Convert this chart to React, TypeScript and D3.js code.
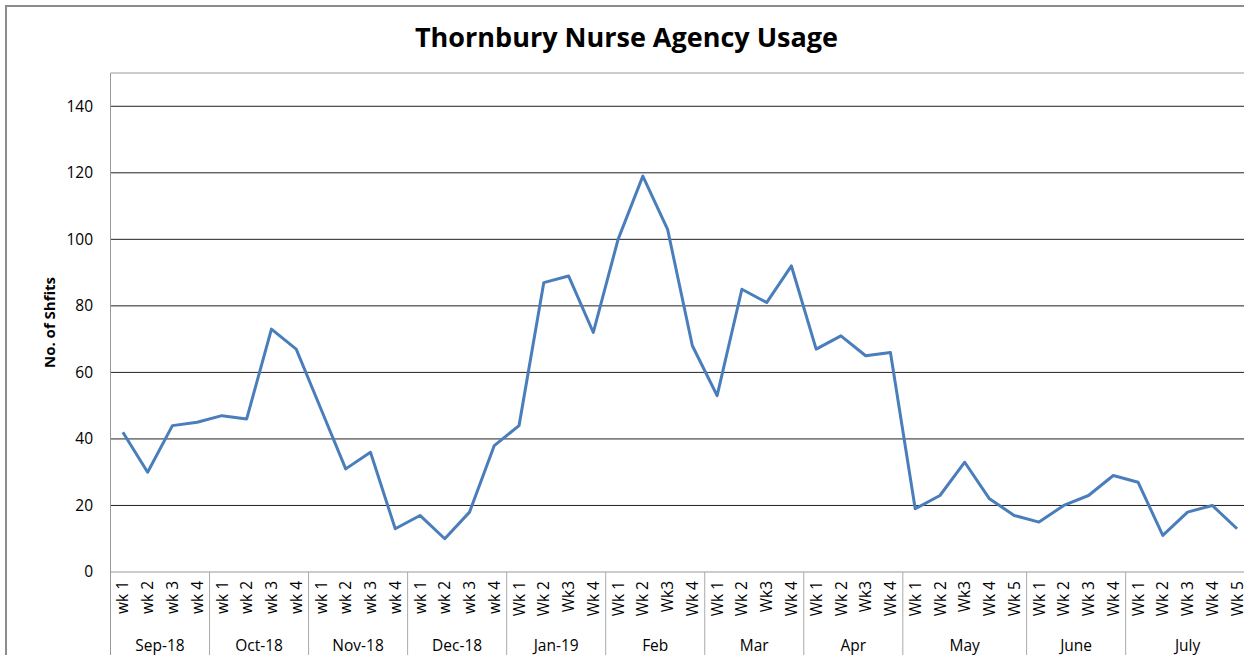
import React from "react";
import * as d3 from "d3";

const months = ["Sep-18", "Oct-18", "Nov-18", "Dec-18", "Jan-19", "Feb", "Mar", "Apr", "May", "June", "July"];
const weekLabels: string[][] = [
  ["wk 1", "wk 2", "wk 3", "wk 4"],
  ["wk 1", "wk 2", "wk 3", "wk 4"],
  ["wk 1", "wk 2", "wk 3", "wk 4"],
  ["wk 1", "wk 2", "wk 3", "wk 4"],
  ["Wk 1", "Wk 2", "Wk3", "Wk 4"],
  ["Wk 1", "Wk 2", "Wk3", "Wk 4"],
  ["Wk 1", "Wk 2", "Wk3", "Wk 4"],
  ["Wk 1", "Wk 2", "Wk3", "Wk 4"],
  ["Wk 1", "Wk 2", "Wk3", "Wk 4", "Wk 5"],
  ["Wk 1", "Wk 2", "Wk 3", "Wk 4"],
  ["Wk 1", "Wk 2", "Wk 3", "Wk 4", "Wk 5"],
];
const shifts = [
  42, 30, 44, 45,
  47, 46, 73, 67,
  49, 31, 36, 13,
  17, 10, 18, 38,
  44, 87, 89, 72,
  100, 119, 103, 68,
  53, 85, 81, 92,
  67, 71, 65, 66,
  19, 23, 33, 22, 17,
  15, 20, 23, 29,
  27, 11, 18, 20, 13,
];
const yTicks = [0, 20, 40, 60, 80, 100, 120, 140];

const W = 1244;
const H = 655;
const plotLeft = 110.5;
const catW = 24.76;
const plotTop = 73;
const plotBottom = 572;
const font = "'Open Sans', 'Noto Sans', sans-serif";

export default function App() {
  const cats = weekLabels.flatMap((wks, mi) => wks.map((w, wi) => ({ key: `${mi}-${wi}`, label: w })));
  const x = d3
    .scaleBand<string>()
    .domain(cats.map((c) => c.key))
    .range([plotLeft, plotLeft + catW * cats.length])
    .paddingInner(0)
    .paddingOuter(0);
  const y = d3.scaleLinear().domain([0, 150]).range([plotBottom, plotTop]);
  const cx = (k: string) => (x(k) as number) + x.bandwidth() / 2;

  const line = d3
    .line<number>()
    .x((_, i) => cx(cats[i].key))
    .y((d) => y(d));

  const bounds: { start: number; end: number; name: string }[] = [];
  let idx = 0;
  weekLabels.forEach((wks, mi) => {
    const s = x(cats[idx].key) as number;
    idx += wks.length;
    const e = s + x.bandwidth() * wks.length;
    bounds.push({ start: s, end: e, name: months[mi] });
  });
  const plotRight = plotLeft + catW * cats.length;

  return (
    <svg
      width={W}
      height={H}
      style={{ position: "absolute", left: 0, top: 0, background: "#fff" }}
      fontFamily={font}
    >
      <rect x={0} y={0} width={W} height={H} fill="#fff" />
      <rect x={6} y={6} width={W + 50} height={H + 50} fill="none" stroke="#8c8c8c" strokeWidth={2} />
      <text x={626.5} y={47} textAnchor="middle" fontSize={27} fontWeight="bold" fill="#000">
        Thornbury Nurse Agency Usage
      </text>
      <line x1={plotLeft} x2={plotRight} y1={plotTop} y2={plotTop} stroke="#999" strokeWidth={1} />
      {yTicks
        .filter((t) => t > 0)
        .map((t) => (
          <line key={t} x1={plotLeft} x2={plotRight} y1={y(t)} y2={y(t)} stroke="#222" strokeWidth={1} />
        ))}
      {yTicks.map((t) => (
        <text key={"l" + t} x={93} y={y(t)} dy="0.35em" textAnchor="end" fontSize={15.5} fill="#000">
          {t}
        </text>
      ))}
      <line x1={plotLeft} x2={plotLeft} y1={plotTop} y2={H} stroke="#999" strokeWidth={1} />
      <line x1={plotLeft} x2={plotRight} y1={plotBottom} y2={plotBottom} stroke="#999" strokeWidth={1} />
      {bounds.map((b, i) => (
        <line key={"d" + i} x1={b.end} x2={b.end} y1={plotBottom} y2={H} stroke="#aaa" strokeWidth={1} />
      ))}
      {cats.map((c) => (
        <text
          key={"w" + c.key}
          transform={`translate(${cx(c.key)},${581}) rotate(-90)`}
          dy="0.36em"
          textAnchor="end"
          fontSize={15.5}
          fill="#000"
        >
          {c.label}
        </text>
      ))}
      {bounds.map((b, i) => (
        <text key={"m" + i} x={(b.start + b.end) / 2} y={651} textAnchor="middle" fontSize={15.5} fill="#000">
          {b.name}
        </text>
      ))}
      <text
        transform={`translate(50,${(plotTop + plotBottom) / 2}) rotate(-90)`}
        dy="0.35em"
        textAnchor="middle"
        fontSize={15}
        fontWeight="bold"
        fill="#000"
      >
        No. of Shfits
      </text>
      <path d={line(shifts) || ""} fill="none" stroke="#4a7ebb" strokeWidth={3} strokeLinejoin="round" />
    </svg>
  );
}
